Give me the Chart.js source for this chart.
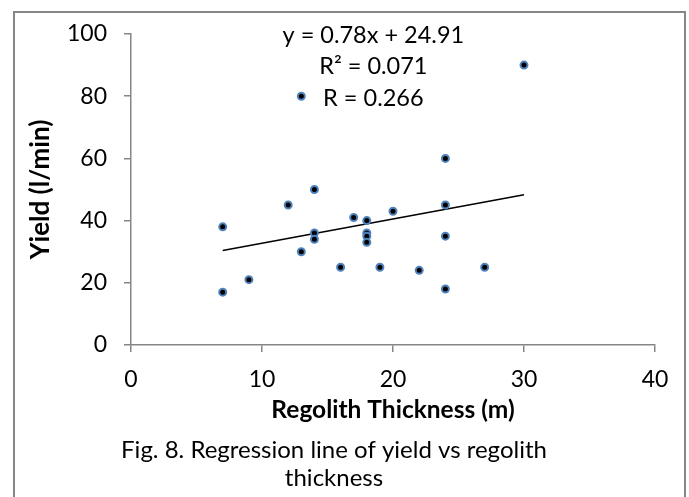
<!DOCTYPE html>
<html>
<head>
<meta charset="utf-8">
<script src="https://cdn.jsdelivr.net/npm/chart.js@4.4.1/dist/chart.umd.min.js"></script>
<style>
  html, body { margin: 0; padding: 0; background: #fff; }
  #wrap { width: 689px; height: 497px; }
</style>
</head>
<body>
<div id="wrap"><canvas id="chart-yield" width="689" height="497"></canvas></div>
<script>
// Datos: espesor del regolito (m) y caudal (l/min)
const thickness = [7, 7, 9, 12, 13, 13, 14, 14, 14, 16, 17, 18, 18, 18, 18, 19, 20, 22, 24, 24, 24, 24, 27, 30];
const yieldVals = [38, 17, 21, 45, 30, 80, 50, 36, 34, 25, 41, 40, 36, 35, 33, 25, 43, 24, 60, 45, 35, 18, 25, 90];

// Linea de tendencia (extremos)
const trendX = [7, 30];
const trendY = [30.37, 48.31];

const xTicks = [0, 10, 20, 30, 40];
const yTicks = [0, 20, 40, 60, 80, 100];

const eqLines = ['y = 0.78x + 24.91', 'R\u00b2 = 0.071', 'R = 0.266'];
const caption = ['Fig. 8. Regression line of yield vs regolith', 'thickness'];

const FONT = 'Lato, "Open Sans", sans-serif';
const GRAY = '#868686';

// Marco, ecuacion y pie de figura
const extras = {
    id: 'extras',
    afterDraw(chart) {
        const ctx = chart.ctx;
        const area = chart.chartArea;
        const x = chart.scales.x;
        ctx.save();
        ctx.strokeStyle = GRAY;
        ctx.lineWidth = 2;
        ctx.strokeRect(14, 12, 671, 520);

        ctx.fillStyle = '#000';
        ctx.textAlign = 'center';
        ctx.textBaseline = 'middle';
        ctx.font = '23.5px ' + FONT;
        const cx = x.getPixelForValue(18.5);
        eqLines.forEach((t, i) => {
            ctx.fillText(t, cx, area.top + 1 + i * 31.5);
        });

        ctx.font = '24px ' + FONT;
        caption.forEach((t, i) => {
            ctx.fillText(t, 334, 450 + i * 28);
        });
        ctx.restore();
    }
};

const ctx = document.getElementById('chart-yield').getContext('2d');
const chart = new Chart(ctx, {
    type: 'scatter',
    data: {
        datasets: [
            {
                label: 'Yield',
                data: thickness.map((t, i) => ({ x: t, y: yieldVals[i] })),
                backgroundColor: '#000000',
                borderColor: '#4F81BD',
                borderWidth: 2,
                pointRadius: 3.5,
                order: 0,
            },
            {
                label: 'Linear',
                data: trendX.map((t, i) => ({ x: t, y: trendY[i] })),
                showLine: true,
                borderColor: '#000000',
                borderWidth: 1.5,
                pointRadius: 0,
                order: 1,
            }
        ]
    },
    options: {
        responsive: false,
        animation: false,
        layout: { padding: { left: 0, right: 34, top: 34, bottom: 0 } },
        plugins: {
            legend: { display: false },
            tooltip: { enabled: false },
        },
        scales: {
            x: {
                type: 'linear',
                min: 0,
                max: 40,
                afterBuildTicks: (s) => { s.ticks = xTicks.map(v => ({ value: v })); },
                afterFit: (s) => { s.height = 152; },
                grid: { drawOnChartArea: false, tickLength: 7, color: GRAY, lineWidth: 1.5 },
                border: { color: GRAY, width: 1.5 },
                ticks: { color: '#000', padding: 14, font: { family: FONT, size: 23 } },
                title: {
                    display: true,
                    text: 'Regolith Thickness (m)',
                    color: '#000',
                    font: { family: FONT, size: 24.5, weight: 'bold' },
                    padding: { top: 0, bottom: 72 },
                }
            },
            y: {
                type: 'linear',
                min: 0,
                max: 100,
                afterBuildTicks: (s) => { s.ticks = yTicks.map(v => ({ value: v })); },
                afterFit: (s) => { s.width = 131; },
                grid: { drawOnChartArea: false, tickLength: 7, color: GRAY, lineWidth: 1.5 },
                border: { color: GRAY, width: 1.5 },
                ticks: { color: '#000', padding: 17, font: { family: FONT, size: 23 } },
                title: {
                    display: true,
                    text: 'Yield (l/min)',
                    color: '#000',
                    font: { family: FONT, size: 26, weight: 'bold' },
                    padding: { top: 25, bottom: 0 },
                }
            }
        }
    },
    plugins: [extras]
});
</script>
</body>
</html>
